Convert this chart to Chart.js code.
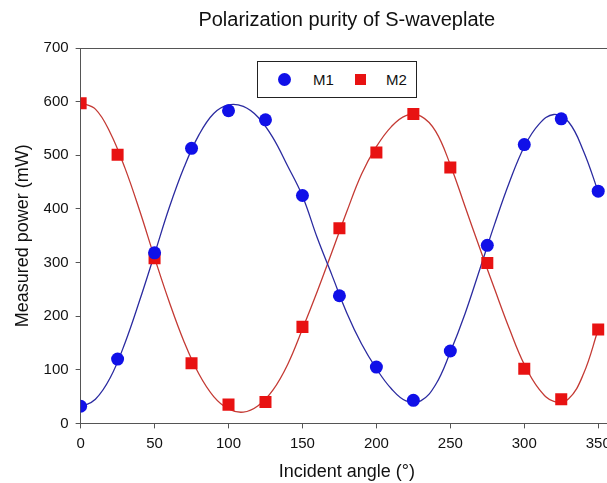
<!DOCTYPE html>
<html>
<head>
<meta charset="utf-8">
<script src="https://cdn.jsdelivr.net/npm/chart.js@4"></script>
<style>
  html, body { margin: 0; padding: 0; background: #fff; overflow: hidden; }
  #wrap { position: relative; width: 640px; height: 483px; }
  #legend {
    position: absolute; left: 257px; top: 61px; width: 158px; height: 35px;
    border: 1px solid #222; background: #fff;
    font-family: "Liberation Sans", Arial, sans-serif; font-size: 15px; color: #111;
  }
  #legend span { position: absolute; top: 9px; }
  .dot { position: absolute; left: 20px; top: 11px; width: 13px; height: 13px; border-radius: 50%; background: #1010e8; }
  .sq { position: absolute; left: 97px; top: 12px; width: 11px; height: 11px; background: #e81212; }
</style>
</head>
<body>
<div id="wrap">
  <canvas id="myChart" width="640" height="483"></canvas>
  <div id="legend">
    <div class="dot"></div><span style="left:55px">M1</span>
    <div class="sq"></div><span style="left:128px">M2</span>
  </div>
</div>
<script>
// measured points
const angles = [0, 25, 50, 75, 100, 125, 150, 175, 200, 225, 250, 275, 300, 325, 350];
const m1 = [32, 120, 318, 513, 583, 566, 425, 238, 105, 43, 135, 332, 520, 568, 433];
const m2 = [597, 501, 308, 112, 35, 40, 180, 364, 505, 577, 477, 299, 102, 45, 175];

// fitted curves
const fitAngles = [0, 10, 20, 30, 40, 50, 60, 70, 80, 90, 100, 110, 120, 130, 140, 150, 160, 170, 180,
  190, 200, 210, 220, 230, 240, 250, 260, 270, 280, 290, 300, 310, 320, 330, 340, 350];
const m1Fit = [30, 45, 85, 150, 230, 316, 403, 478, 538, 578, 594, 591, 571, 533, 480, 424, 346, 276, 206,
  148, 102, 65, 42, 42, 72, 133, 205, 288, 372, 450, 516, 558, 576, 562, 508, 432];
const m2Fit = [598, 586, 542, 476, 396, 309, 226, 152, 92, 50, 27, 21, 33, 62, 110, 176, 246, 320, 395,
  465, 516, 553, 574, 573, 545, 482, 404, 326, 250, 176, 110, 64, 41, 46, 92, 175];

const xTicks = [0, 50, 100, 150, 200, 250, 300, 350];

function toXY(xs, ys) {
  return xs.map((x, i) => ({ x: x, y: ys[i] }));
}

const font = "'Liberation Sans', Arial, sans-serif";

new Chart(document.getElementById("myChart"), {
  type: "scatter",
  data: {
    datasets: [
      {
        label: "M1",
        data: toXY(angles, m1),
        pointStyle: "circle",
        pointRadius: 6.5,
        backgroundColor: "#1010e8",
        borderColor: "#1010e8",
        borderWidth: 0,
        order: 0,
      },
      {
        label: "M2",
        data: toXY(angles, m2),
        pointStyle: "rect",
        pointRadius: 8.5,
        backgroundColor: "#e81212",
        borderColor: "#e81212",
        borderWidth: 0,
        order: 0,
      },
      {
        label: "M1 fit",
        type: "line",
        data: toXY(fitAngles, m1Fit),
        borderColor: "#2b2ba0",
        borderWidth: 1.3,
        pointRadius: 0,
        tension: 0.4,
        fill: false,
        order: 1,
      },
      {
        label: "M2 fit",
        type: "line",
        data: toXY(fitAngles, m2Fit),
        borderColor: "#c43a34",
        borderWidth: 1.3,
        pointRadius: 0,
        tension: 0.4,
        fill: false,
        order: 1,
      },
    ],
  },
  options: {
    responsive: false,
    animation: false,
    layout: { padding: { left: 12, right: 27, top: 0, bottom: 0 } },
    plugins: {
      legend: { display: false },
      tooltip: { enabled: false },
      title: {
        display: true,
        text: "Polarization purity of S-waveplate",
        fullSize: false,
        color: "#111",
        font: { family: font, size: 20, weight: "normal" },
        padding: { top: 8, bottom: 8 },
      },
    },
    scales: {
      x: {
        type: "linear",
        min: 0,
        max: 360,
        afterBuildTicks: (axis) => {
          axis.ticks = xTicks.map((v) => ({ value: v }));
        },
        ticks: { color: "#111", font: { family: font, size: 15 }, padding: 6, maxRotation: 0 },
        grid: { drawOnChartArea: false, tickLength: 5, color: "#555" },
        border: { color: "#555", width: 1 },
        title: {
          display: true,
          text: "Incident angle (°)",
          color: "#111",
          font: { family: font, size: 18 },
          padding: { top: 3, bottom: 0 },
        },
      },
      x2: {
        type: "linear",
        position: "top",
        min: 0,
        max: 360,
        ticks: { display: false },
        grid: { display: false },
        border: { display: true, color: "#555", width: 1 },
      },
      y: {
        min: 0,
        max: 700,
        ticks: { stepSize: 100, color: "#111", font: { family: font, size: 15 }, padding: 7 },
        grid: { drawOnChartArea: false, tickLength: 5, color: "#555" },
        border: { color: "#555", width: 1 },
        title: {
          display: true,
          text: "Measured power (mW)",
          color: "#111",
          font: { family: font, size: 18 },
          padding: { top: 0, bottom: 3 },
        },
      },
    },
  },
});
</script>
</body>
</html>
